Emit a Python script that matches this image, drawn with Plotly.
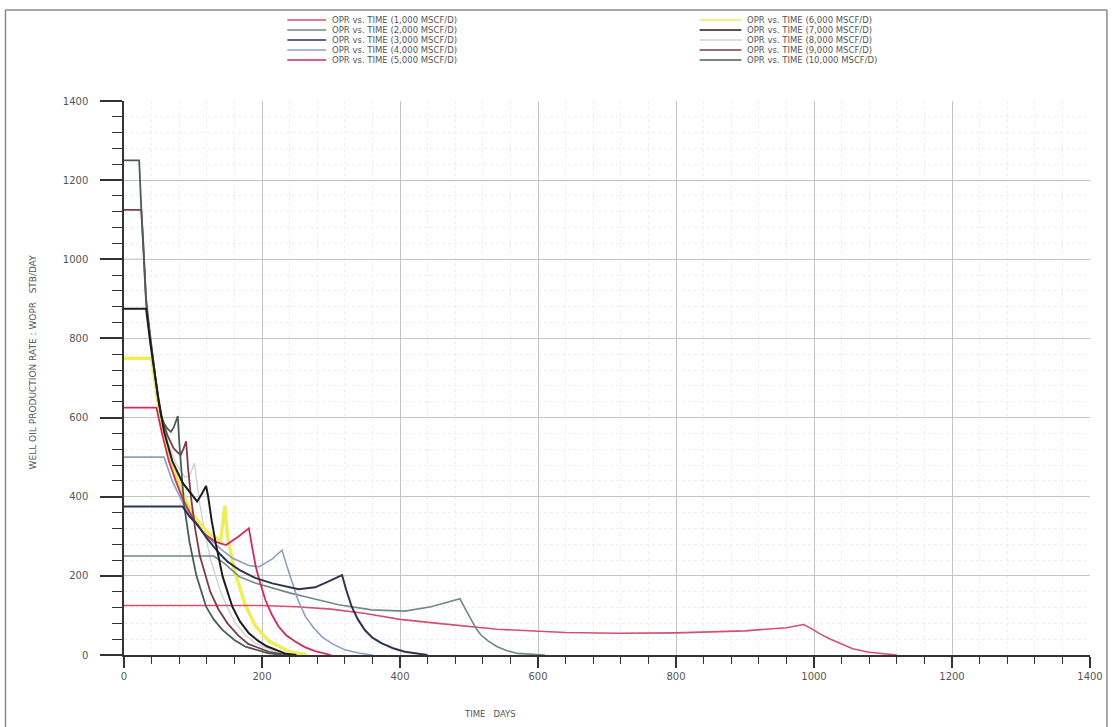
import plotly.graph_objects as go

# ---- data (days, STB/DAY) ----
t_1000 = [0, 200, 250, 300, 350, 400, 455, 541, 640, 714, 800, 900, 960, 985, 995, 1010, 1024, 1040, 1056, 1080, 1113, 1120]
q_1000 = [125, 125, 122, 116, 105, 90, 80, 65, 57, 55, 56, 61, 69, 77, 68, 52, 40, 27, 16, 7, 2, 0]

t_2000 = [0, 130, 145, 167, 190, 215, 240, 263, 311, 359, 407, 445, 474, 487, 495, 503, 510, 517, 528, 541, 555, 570, 610]
q_2000 = [250, 250, 232, 198, 182, 169, 157, 147, 127, 114, 111, 122, 135, 142, 115, 88, 68, 51, 35, 21, 11, 4, 0]

t_3000 = [0, 85, 95, 107, 120, 138, 150, 167, 190, 215, 253, 277, 295, 316, 322, 330, 339, 349, 360, 373, 390, 407, 440]
q_3000 = [375, 375, 350, 328, 295, 257, 236, 215, 195, 181, 166, 171, 185, 202, 165, 122, 90, 63, 44, 30, 17, 8, 0]

t_4000 = [0, 58, 70, 85, 100, 120, 140, 157, 181, 196, 215, 229, 236, 244, 253, 263, 275, 287, 302, 320, 340, 360]
q_4000 = [500, 500, 440, 385, 340, 300, 268, 245, 226, 223, 243, 265, 225, 181, 135, 97, 68, 46, 28, 13, 5, 0]

t_5000 = [0, 47, 55, 65, 75, 85, 100, 115, 133, 148, 165, 181, 186, 191, 198, 205, 214, 224, 235, 248, 262, 277, 300]
q_5000 = [625, 625, 560, 490, 440, 395, 345, 308, 286, 278, 298, 320, 270, 223, 178, 139, 103, 72, 50, 34, 20, 10, 0]

t_6000 = [0, 40, 45, 50, 60, 70, 85, 100, 120, 140, 143, 146, 150, 160, 175, 190, 210, 240, 265]
q_6000 = [750, 750, 690, 630, 540, 480, 410, 355, 312, 288, 330, 378, 300, 215, 130, 75, 35, 8, 0]

t_7000 = [0, 32, 38, 44, 50, 58, 70, 85, 100, 106, 112, 119, 122, 127, 133, 143, 157, 168, 181, 195, 207, 235, 250]
q_7000 = [875, 875, 790, 715, 645, 565, 490, 435, 400, 388, 405, 427, 400, 340, 282, 198, 122, 85, 55, 35, 22, 3, 0]

t_8000 = [0, 29, 32, 38, 44, 50, 56, 65, 75, 88, 95, 102, 105, 110, 115, 125, 140, 150, 160, 175, 190, 220, 245]
q_8000 = [1000, 1000, 890, 795, 720, 650, 590, 530, 485, 450, 452, 485, 440, 380, 330, 245, 160, 120, 85, 52, 30, 8, 0]

t_9000 = [0, 25, 28, 32, 38, 44, 49, 54, 63, 72, 82, 86, 90, 93, 97, 103, 110, 125, 137, 150, 165, 180, 210, 235]
q_9000 = [1125, 1125, 1040, 900, 805, 722, 655, 602, 555, 522, 505, 520, 540, 470, 400, 320, 250, 160, 115, 80, 50, 28, 8, 0]

t_10000 = [0, 22, 25, 28, 32, 35, 38, 44, 49, 54, 58, 63, 68, 72, 75, 78, 80, 83, 87, 95, 105, 119, 130, 143, 160, 176, 208, 230]
q_10000 = [1250, 1250, 1130, 1010, 890, 840, 800, 722, 655, 605, 585, 572, 564, 575, 590, 604, 540, 460, 380, 285, 200, 122, 90, 63, 38, 21, 5, 0]

labels = ["OPR vs. TIME (1,000 MSCF/D)", "OPR vs. TIME (2,000 MSCF/D)", "OPR vs. TIME (3,000 MSCF/D)",
          "OPR vs. TIME (4,000 MSCF/D)", "OPR vs. TIME (5,000 MSCF/D)", "OPR vs. TIME (6,000 MSCF/D)",
          "OPR vs. TIME (7,000 MSCF/D)", "OPR vs. TIME (8,000 MSCF/D)", "OPR vs. TIME (9,000 MSCF/D)",
          "OPR vs. TIME (10,000 MSCF/D)"]

x_ticks = [0, 200, 400, 600, 800, 1000, 1200, 1400]
y_ticks = [0, 200, 400, 600, 800, 1000, 1200, 1400]

series = [
    (t_1000, q_1000, "#d4506f", 1.6),
    (t_2000, q_2000, "#6e8a82", 1.6),
    (t_3000, q_3000, "#2e3450", 2.0),
    (t_4000, q_4000, "#8aa0c2", 1.6),
    (t_5000, q_5000, "#d12a5c", 1.8),
    (t_6000, q_6000, "#eeee5a", 3.5),
    (t_7000, q_7000, "#1c1c1c", 2.0),
    (t_8000, q_8000, "#d2d2d2", 1.4),
    (t_9000, q_9000, "#7a3e48", 1.8),
    (t_10000, q_10000, "#4b5d5a", 1.8),
]
draw_order = [7, 5, 0, 1, 3, 4, 8, 9, 2, 6]

fig = go.Figure()
for i in draw_order:
    t, q, c, w = series[i]
    fig.add_trace(go.Scatter(x=t, y=q, mode="lines", name=labels[i],
                             line=dict(color=c, width=w), showlegend=False,
                             hoverinfo="skip"))

W, H = 1115, 727
L, R, T, B = 124, 21, 101, 72
pw, ph = W - L - R, H - T - B


def xp(px):
    return (px - L) / pw


def yp(py):
    return (H - B - py) / ph


shapes = []
annotations = []
# manual two-column legend
rows_y = [20, 30, 40, 50, 60]
for k in range(10):
    col = k // 5
    r = k % 5
    _, _, c, w = series[k]
    lx0, lx1, tx = (288, 327, 331) if col == 0 else (702, 744, 748)
    y = rows_y[r]
    shapes.append(dict(type="line", xref="paper", yref="paper",
                       x0=xp(lx0), x1=xp(lx1), y0=yp(y), y1=yp(y),
                       line=dict(color=c, width=1.5)))
    annotations.append(dict(text=labels[k], xref="paper", yref="paper",
                            x=xp(tx), y=yp(y), xanchor="left", yanchor="middle",
                            showarrow=False,
                            font=dict(size=8.5, color="#555", family="DejaVu Sans")))

# outer frame lines (left, top, right)
shapes.append(dict(type="line", xref="paper", yref="paper", x0=xp(5), x1=xp(5), y0=yp(10), y1=yp(727),
                   line=dict(color="#8a8a8a", width=1.5)))
shapes.append(dict(type="line", xref="paper", yref="paper", x0=xp(5), x1=xp(1111), y0=yp(10), y1=yp(10),
                   line=dict(color="#8a8a8a", width=1.5)))
shapes.append(dict(type="line", xref="paper", yref="paper", x0=xp(1111), x1=xp(1111), y0=yp(10), y1=yp(727),
                   line=dict(color="#8a8a8a", width=1.5)))

annotations.append(dict(text="WELL OIL PRODUCTION RATE : WOPR   STB/DAY", textangle=-90,
                        xref="paper", yref="paper", x=xp(33), y=yp(362),
                        xanchor="center", yanchor="middle", showarrow=False,
                        font=dict(size=9, color="#555", family="DejaVu Sans")))
annotations.append(dict(text="TIME   DAYS", xref="paper", yref="paper", x=xp(492), y=yp(714),
                        xanchor="center", yanchor="middle", showarrow=False,
                        font=dict(size=8.5, color="#555", family="DejaVu Sans")))

fig.update_layout(
    width=W, height=H,
    margin=dict(l=L, r=R, t=T, b=B),
    paper_bgcolor="white", plot_bgcolor="white",
    shapes=shapes, annotations=annotations,
    xaxis=dict(range=[0, 1400], tickvals=x_ticks, ticktext=[str(v) for v in x_ticks],
               showline=True, linecolor="#333", linewidth=1.5,
               ticks="outside", ticklen=11, tickwidth=1.5, tickcolor="#333",
               showgrid=True, gridcolor="#c4c4c4", gridwidth=1, zeroline=False,
               tickfont=dict(size=10, color="#555", family="DejaVu Sans"),
               minor=dict(dtick=40, tick0=0, ticks="outside", ticklen=7, tickwidth=1.2,
                          tickcolor="#333", showgrid=True, gridcolor="#eeeeee", griddash="dot")),
    yaxis=dict(range=[0, 1400], tickvals=y_ticks, ticktext=[str(v) for v in y_ticks],
               showline=True, linecolor="#333", linewidth=1.5,
               ticks="outside", ticklen=22, tickwidth=1.5, tickcolor="#333",
               ticklabelstandoff=10,
               showgrid=True, gridcolor="#c4c4c4", gridwidth=1, zeroline=False,
               tickfont=dict(size=10, color="#555", family="DejaVu Sans"),
               minor=dict(dtick=40, tick0=0, ticks="outside", ticklen=10, tickwidth=1.2,
                          tickcolor="#333", showgrid=True, gridcolor="#eeeeee", griddash="dot")),
)

fig.write_html("out.html")
